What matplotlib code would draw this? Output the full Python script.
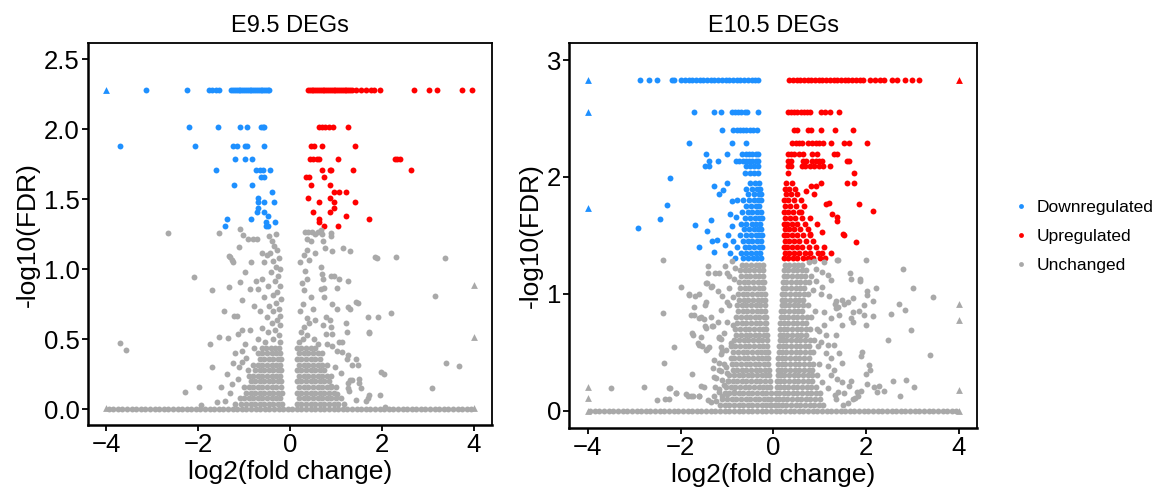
import numpy as np
import matplotlib.pyplot as plt
from matplotlib.lines import Line2D
from matplotlib.ticker import FormatStrFormatter

plt.rcParams['font.family'] = ['Liberation Sans', 'DejaVu Sans']

BLUE = '#1E90FF'
RED = '#FF0000'
GREY = '#A9A9A9'

# genes with FDR ~ 1 sit on the zero line across the whole fold-change range
baseline_x = [-3.95, -3.85, -3.75, -3.65, -3.55, -3.45, -3.35, -3.25, -3.15, -3.05,
              -2.95, -2.85, -2.75, -2.65, -2.55, -2.45, -2.35, -2.25, -2.15, -2.05,
              -1.95, -1.85, -1.75, -1.65, -1.55, -1.45, -1.35, -1.25, -1.15, -1.05,
              -0.95, -0.85, -0.75, -0.65, -0.55, -0.45, -0.35, -0.25, -0.15, -0.05,
              0.05, 0.15, 0.25, 0.35, 0.45, 0.55, 0.65, 0.75, 0.85, 0.95,
              1.05, 1.15, 1.25, 1.35, 1.45, 1.55, 1.65, 1.75, 1.85, 1.95,
              2.05, 2.15, 2.25, 2.35, 2.45, 2.55, 2.65, 2.75, 2.85, 2.95,
              3.05, 3.15, 3.25, 3.35, 3.45, 3.55, 3.65, 3.75, 3.85, 3.95]

# ---------------- E9.5 ----------------
e95_down_rows = [
    (2.28, [-3.13, -2.25, -1.77, -1.70, -1.62, -1.54, -1.28, -1.24, -1.20, -1.16, -1.12,
            -1.08, -1.04, -1.00, -0.96, -0.92, -0.88, -0.84, -0.80, -0.76, -0.72, -0.68,
            -0.64, -0.60, -0.56, -0.52, -0.48, -0.45]),
    (2.02, [-2.19, -1.57, -1.10, -0.94, -0.63, -0.59, -0.56]),
    (1.88, [-3.70, -2.06, -1.25, -1.16, -0.99, -0.94, -0.56]),
    (1.79, [-1.19, -0.98, -0.83]),
    (1.71, [-1.61, -0.74, -0.66, -0.59, -0.43]),
    (1.66, [-0.63, -0.56]),
    (1.60, [-1.21, -0.83]),
    (1.55, [-0.40]),
    (1.51, [-0.70]),
    (1.48, [-0.70, -0.56, -0.34]),
    (1.44, [-0.70]),
    (1.41, [-0.72, -0.56]),
    (1.38, [-0.48]),
    (1.36, [-1.38, -0.85]),
    (1.34, [-0.53, -0.32]),
    (1.31, [-1.41, -0.52, -0.48]),
]
e95_up_rows = [
    (2.28, [0.39, 0.43, 0.47, 0.51, 0.55, 0.59, 0.63, 0.67, 0.71, 0.75, 0.79, 0.83, 0.87,
            0.91, 0.95, 0.99, 1.03, 1.07, 1.11, 1.15, 1.19, 1.23, 1.27, 1.31, 1.35,
            1.43, 1.55, 1.66, 1.77, 1.84, 1.95, 2.71, 3.02, 3.20, 3.75, 3.97]),
    (2.02, [0.63, 0.70, 0.77, 0.84, 0.93, 1.26]),
    (1.88, [0.46, 0.53, 0.70, 1.41]),
    (1.79, [0.44, 0.51, 0.58, 0.64, 1.04, 2.28, 2.33, 2.39]),
    (1.71, [0.70, 0.86, 0.90, 1.38, 2.63]),
    (1.66, [0.34, 0.41, 0.75]),
    (1.60, [0.46, 0.86]),
    (1.55, [0.95, 1.06, 1.22]),
    (1.51, [0.39, 0.86]),
    (1.48, [0.63, 0.95, 1.41]),
    (1.44, [0.95]),
    (1.41, [0.50, 0.86]),
    (1.38, [1.22]),
    (1.36, [0.64, 1.71]),
    (1.34, [0.63]),
    (1.31, [0.75, 1.04]),
]
e95_down_tri = [(-4.0, 2.28)]
e95_up_tri = []

e95_grey_rows = [
    (0.44, [-0.62, -0.52, -0.42, -0.33, -0.25, 0.16, 0.25, 0.35, 0.45, 0.55]),
    (0.40, [-0.70, -0.60, -0.50, -0.40, -0.30, -0.22, 0.20, 0.30, 0.40, 0.50, 0.60, 0.70]),
    (0.36, [-0.66, -0.56, -0.46, -0.36, -0.27, -0.20, 0.16, 0.25, 0.35, 0.45, 0.55, 0.65]),
    (0.32, [-0.80, -0.70, -0.60, -0.50, -0.40, -0.30, -0.22,
            0.20, 0.30, 0.40, 0.50, 0.60, 0.70, 0.80]),
    (0.28, [-0.76, -0.66, -0.56, -0.46, -0.36, -0.27, -0.19,
            0.16, 0.25, 0.35, 0.45, 0.55, 0.65, 0.75]),
    (0.24, [-0.90, -0.80, -0.70, -0.60, -0.50, -0.40, -0.30, -0.21,
            0.20, 0.30, 0.40, 0.50, 0.60, 0.70, 0.80, 0.90]),
    (0.20, [-0.86, -0.76, -0.66, -0.56, -0.46, -0.36, -0.27, -0.19,
            0.16, 0.25, 0.35, 0.45, 0.55, 0.65, 0.75, 0.85]),
    (0.16, [-1.00, -0.90, -0.80, -0.70, -0.60, -0.50, -0.40, -0.30, -0.20,
            0.20, 0.30, 0.40, 0.50, 0.60, 0.70, 0.80, 0.90, 1.00]),
    (0.12, [-0.96, -0.86, -0.76, -0.66, -0.56, -0.46, -0.36, -0.26, -0.18,
            0.16, 0.25, 0.35, 0.45, 0.55, 0.65, 0.75, 0.85, 0.95]),
    (0.08, [-1.10, -1.00, -0.90, -0.80, -0.70, -0.60, -0.50, -0.40, -0.30, -0.21,
            0.20, 0.30, 0.40, 0.50, 0.60, 0.70, 0.80, 0.90, 1.00, 1.10]),
    (0.04, [-1.20, -1.06, -0.96, -0.86, -0.76, -0.66, -0.56, -0.46, -0.36, -0.26, -0.18,
            0.16, 0.25, 0.35, 0.45, 0.55, 0.65, 0.75, 0.85, 0.95, 1.05, 1.18]),
]
e95_grey_pts = [
    # left of zero
    (-0.30, 1.25), (-0.45, 1.24), (-0.40, 1.20), (-0.35, 1.17), (-0.28, 1.14), (-0.43, 1.12),
    (-0.50, 1.10), (-0.62, 1.12), (-0.25, 1.08), (-0.36, 1.06), (-0.56, 1.05), (-0.30, 1.02),
    (-0.21, 1.00), (-0.42, 0.98), (-0.26, 0.95), (-0.60, 0.93), (-0.33, 0.92), (-0.22, 0.88),
    (-0.48, 0.88), (-0.70, 0.86), (-0.28, 0.84), (-0.38, 0.82), (-0.20, 0.79), (-0.56, 0.80),
    (-0.30, 0.76), (-0.45, 0.74), (-0.24, 0.72), (-0.36, 0.70), (-0.21, 0.67), (-0.50, 0.66),
    (-0.28, 0.64), (-0.40, 0.62), (-0.22, 0.60), (-0.60, 0.58), (-0.33, 0.57), (-0.47, 0.55),
    (-0.25, 0.53), (-0.38, 0.50), (-0.55, 0.48), (-0.70, 0.50), (-0.22, 0.48),
    (-0.92, 1.22), (-0.81, 1.22), (-0.72, 1.22), (-1.03, 1.245), (-1.10, 1.29), (-1.55, 1.26),
    (-2.65, 1.26), (-1.32, 1.095), (-1.24, 1.054), (-1.12, 1.16), (-0.85, 1.05), (-0.97, 0.98),
    (-1.09, 0.91), (-0.88, 0.86), (-0.75, 0.92), (-1.04, 0.78), (-0.79, 0.74), (-0.66, 0.70),
    (-1.16, 0.67), (-1.21, 0.67), (-0.88, 0.57), (-1.04, 0.57), (-1.14, 0.535), (-0.98, 0.47),
    (-0.78, 0.44), (-1.35, 0.51), (-1.54, 0.52), (-1.75, 0.47), (-1.44, 0.70), (-1.32, 0.876),
    (-1.70, 0.85), (-2.10, 0.947), (-1.31, 1.09), (-1.27, 1.066), (-3.71, 0.476), (-3.58, 0.424),
    (-1.70, 0.30), (-1.99, 0.161), (-2.28, 0.121), (-1.94, 0.03), (-1.20, 0.40), (-1.05, 0.42),
    (-1.25, 0.33), (-1.12, 0.30), (-1.38, 0.25), (-1.50, 0.16), (-1.30, 0.12), (-1.42, 0.06),
    (-1.60, 0.05), (-1.05, 0.34), (-0.95, 0.37), (-1.14, 0.22), (-1.26, 0.18), (-0.92, 0.28),
    # right of zero
    (0.33, 1.27), (0.40, 1.27), (0.47, 1.27), (0.55, 1.25), (0.38, 1.22), (0.45, 1.20),
    (0.70, 1.25), (0.72, 1.20), (0.36, 1.14), (0.60, 1.27), (0.67, 1.28), (0.90, 1.26),
    (0.90, 1.24), (0.77, 1.15), (0.91, 1.13), (1.15, 1.15), (1.30, 1.13), (0.31, 1.10),
    (0.42, 1.07), (0.55, 1.12), (1.85, 1.09), (2.31, 1.09), (0.67, 1.02), (0.33, 0.99),
    (0.38, 0.93), (0.69, 0.97), (0.71, 0.93), (0.89, 0.95), (0.96, 0.95), (1.06, 0.93),
    (1.27, 0.92), (0.31, 0.85), (0.67, 0.86), (0.74, 0.87), (1.03, 0.87), (0.45, 0.80),
    (0.28, 0.75), (0.50, 0.72), (0.74, 0.80), (0.91, 0.75), (1.03, 0.72), (1.27, 0.73),
    (1.44, 0.77), (0.38, 0.65), (0.55, 0.64), (0.78, 0.66), (0.86, 0.64), (1.70, 0.66),
    (1.91, 0.66), (2.19, 0.69), (0.31, 0.59), (0.42, 0.62), (0.71, 0.60), (0.89, 0.59),
    (1.22, 0.62), (1.73, 0.55), (1.24, 0.55), (0.78, 0.54), (0.91, 0.54), (1.06, 0.48),
    (1.13, 0.48), (0.91, 0.45), (0.80, 0.47), (1.03, 0.42), (1.13, 0.41), (1.27, 0.39),
    (1.44, 0.36), (1.24, 0.36), (1.36, 0.32), (1.99, 0.27), (2.04, 0.25), (1.36, 0.21),
    (1.51, 0.19), (1.55, 0.15), (1.73, 0.10), (1.97, 0.10), (1.29, 0.13), (1.44, 0.07),
    (1.65, 0.06), (1.30, 0.21), (0.89, 0.17), (1.03, 0.11), (1.89, 1.078), (3.37, 1.078),
    (3.15, 0.81), (1.48, 0.757), (1.30, 0.72), (1.72, 0.547), (3.40, 0.329), (3.69, 0.309),
    (3.09, 0.15), (1.48, 0.32), (1.51, 0.22), (1.26, 0.186), (1.26, 0.15), (2.06, 0.02),
    (1.70, 0.08), (0.22, 1.05), (0.26, 0.90), (0.21, 0.70), (0.24, 0.55), (0.20, 0.48),
    (0.28, 0.50), (0.36, 0.53), (0.52, 0.50), (0.62, 0.47), (0.98, 0.30), (1.12, 0.26),
]
e95_grey_tri = [(-4.0, 0.01), (4.0, 0.01), (4.0, 0.52), (4.0, 0.89)]

# ---------------- E10.5 ----------------
e105_down_rows = [
    (2.83, [-2.87, -2.68, -2.51, -2.19, -2.14, -1.99, -1.91, -1.83, -1.75, -1.67, -1.59,
            -1.51, -1.43, -1.35, -1.27, -1.19, -1.11, -1.03, -0.95, -0.87, -0.79, -0.71,
            -0.63, -0.55, -0.47, -0.40, -0.34]),
    (2.56, [-1.72, -1.28, -1.12, -0.90, -0.83, -0.76, -0.69, -0.62, -0.56, -0.34]),
    (2.40, [-1.10, -0.86, -0.79, -0.72, -0.65, -0.58, -0.51, -0.44, -0.36]),
    (2.29, [-1.81, -0.90, -0.58]),
    (2.20, [-1.46, -1.00, -0.67, -0.60, -0.52, -0.45, -0.38, -0.34]),
    (2.14, [-1.38, -1.20, -0.80, -0.73, -0.66, -0.59, -0.52, -0.45, -0.38, -0.34]),
    (2.09, [-1.47, -1.38, -0.60, -0.51, -0.41, -0.34]),
    (2.03, [-0.62, -0.51, -0.42, -0.34]),
    (1.95, [-0.50, -0.40, -0.30]),
    (1.90, [-0.60, -0.45, -0.35, -0.28]),
    (1.85, [-0.55, -0.42, -0.32, -0.26]),
    (1.80, [-0.65, -0.52, -0.42, -0.33, -0.27]),
    (1.75, [-0.58, -0.48, -0.38, -0.30]),
    (1.70, [-0.68, -0.55, -0.45, -0.35, -0.27]),
    (1.65, [-0.62, -0.50, -0.40, -0.31, -0.25]),
    (1.60, [-0.70, -0.58, -0.47, -0.37, -0.28]),
    (1.55, [-0.64, -0.52, -0.42, -0.33, -0.26]),
    (1.50, [-0.72, -0.60, -0.48, -0.38, -0.30, -0.24]),
    (1.45, [-0.66, -0.55, -0.45, -0.35, -0.27]),
    (1.40, [-0.78, -0.62, -0.52, -0.42, -0.32, -0.25]),
    (1.35, [-0.70, -0.58, -0.48, -0.38, -0.29]),
    (1.31, [-0.82, -0.66, -0.55, -0.44, -0.35, -0.26]),
]
e105_down_pts = [
    (-2.23, 1.99), (-2.29, 1.76), (-2.44, 1.64), (-2.92, 1.56), (-0.99, 1.95), (-1.08, 1.885),
    (-1.17, 1.85), (-1.29, 1.92), (-0.90, 1.79), (-0.79, 1.80), (-0.93, 1.68), (-0.81, 1.66),
    (-1.35, 1.63), (-1.69, 1.59), (-1.43, 1.54), (-1.33, 1.45), (-1.21, 1.46), (-1.61, 1.40),
    (-1.29, 1.36), (-0.93, 1.35), (-0.98, 1.50), (-0.86, 1.45), (-1.05, 1.42), (-0.90, 1.58),
]
e105_up_rows = [
    (2.83, [0.34, 0.42, 0.50, 0.58, 0.66, 0.74, 0.82, 0.90, 0.98, 1.06, 1.14, 1.22, 1.30,
            1.38, 1.46, 1.54, 1.62, 1.70, 1.78, 1.86, 1.94, 2.09, 2.20, 2.31, 2.38, 2.56,
            2.67, 2.85, 2.99, 3.15]),
    (2.56, [0.31, 0.38, 0.45, 0.52, 0.59, 0.66, 0.73, 0.80, 1.03, 1.12, 1.22, 1.41]),
    (2.40, [0.44, 0.52, 0.74, 0.82, 1.03, 1.34, 1.72]),
    (2.29, [0.41, 0.48, 0.55, 0.62, 0.74, 0.84, 0.91, 0.98, 1.07, 1.25, 1.52, 1.63, 2.02]),
    (2.20, [0.31, 0.38, 0.45, 0.56, 0.63, 0.84, 0.94, 1.30, 1.37]),
    (2.14, [0.31, 0.38, 0.63, 0.70, 0.84, 0.91, 0.98, 1.05, 1.58, 1.63]),
    (2.09, [0.31, 0.38, 0.62, 0.69, 0.80, 0.88, 0.98, 1.07, 1.23]),
    (2.03, [0.31, 1.75]),
    (1.95, [0.28, 0.40]),
    (1.90, [0.25, 0.34, 0.46]),
    (1.85, [0.27, 0.38, 0.52]),
    (1.80, [0.24, 0.32, 0.44, 0.60]),
    (1.75, [0.26, 0.36, 0.48, 0.66]),
    (1.70, [0.24, 0.31, 0.42, 0.55]),
    (1.65, [0.25, 0.35, 0.46, 0.62, 0.78]),
    (1.60, [0.23, 0.30, 0.40, 0.52, 0.68]),
    (1.55, [0.25, 0.34, 0.45, 0.58, 0.75]),
    (1.50, [0.24, 0.30, 0.40, 0.50, 0.64, 0.80]),
    (1.45, [0.25, 0.34, 0.45, 0.56, 0.70, 0.86]),
    (1.40, [0.24, 0.30, 0.40, 0.50, 0.62, 0.76, 0.92]),
    (1.35, [0.25, 0.34, 0.45, 0.56, 0.68, 0.80, 0.96, 1.05]),
    (1.31, [0.24, 0.32, 0.42, 0.52, 0.64, 0.74, 0.86, 1.00, 1.12]),
]
e105_up_pts = [
    (1.75, 1.95), (1.59, 1.95), (1.84, 1.77), (2.14, 1.71), (0.91, 1.92), (0.82, 1.92),
    (1.02, 1.95), (0.87, 1.85), (1.20, 1.78), (1.13, 1.77), (1.27, 1.68), (1.38, 1.66),
    (1.38, 1.62), (1.05, 1.53), (1.52, 1.50), (1.79, 1.44), (0.79, 1.51), (0.70, 1.88),
    (0.60, 1.70), (0.95, 1.60), (1.10, 1.40), (1.25, 1.35), (1.51, 1.51),
]
e105_down_tri = [(-4.0, 2.83), (-4.0, 2.56), (-4.0, 1.73)]
e105_up_tri = [(4.0, 2.83)]

e105_grey_rows = [
    (1.25, [-0.68, -0.58, -0.48, -0.38, -0.30, -0.23, 0.25, 0.34, 0.44, 0.54, 0.62]),
    (1.20, [-0.72, -0.62, -0.52, -0.42, -0.32, -0.23, 0.23, 0.32, 0.42, 0.52, 0.62, 0.70]),
    (1.15, [-0.70, -0.60, -0.50, -0.40, -0.30, -0.22, 0.22, 0.30, 0.40, 0.50, 0.60, 0.68]),
    (1.10, [-0.74, -0.64, -0.54, -0.44, -0.34, -0.25, -0.21,
            0.21, 0.28, 0.38, 0.48, 0.58, 0.68, 0.76]),
    (1.05, [-0.72, -0.62, -0.52, -0.42, -0.32, -0.22, 0.20, 0.28, 0.38, 0.48, 0.58, 0.66]),
    (1.00, [-0.76, -0.66, -0.56, -0.46, -0.36, -0.26, -0.19,
            0.19, 0.26, 0.36, 0.46, 0.56, 0.66, 0.74]),
    (0.95, [-0.74, -0.64, -0.54, -0.44, -0.34, -0.24, -0.18,
            0.18, 0.26, 0.36, 0.46, 0.56, 0.64]),
    (0.90, [-0.78, -0.68, -0.58, -0.48, -0.38, -0.28, -0.18,
            0.18, 0.25, 0.34, 0.44, 0.54, 0.64, 0.74]),
    (0.85, [-0.76, -0.66, -0.56, -0.46, -0.36, -0.26, -0.17,
            0.17, 0.24, 0.34, 0.44, 0.54, 0.62]),
    (0.80, [-0.80, -0.70, -0.60, -0.50, -0.40, -0.30, -0.21, -0.16,
            0.16, 0.24, 0.32, 0.42, 0.52, 0.62, 0.72, 0.82]),
    (0.75, [-0.78, -0.68, -0.58, -0.48, -0.38, -0.28, -0.19, -0.15,
            0.15, 0.23, 0.32, 0.42, 0.52, 0.62, 0.70]),
    (0.70, [-0.82, -0.72, -0.62, -0.52, -0.42, -0.32, -0.22, -0.15,
            0.15, 0.22, 0.30, 0.40, 0.50, 0.60, 0.70, 0.80]),
    (0.65, [-0.80, -0.70, -0.60, -0.50, -0.40, -0.30, -0.21, -0.14,
            0.14, 0.21, 0.30, 0.40, 0.50, 0.60, 0.70]),
    (0.60, [-0.84, -0.74, -0.64, -0.54, -0.44, -0.34, -0.24, -0.14,
            0.14, 0.20, 0.28, 0.38, 0.48, 0.58, 0.68, 0.78, 0.88]),
    (0.55, [-0.82, -0.72, -0.62, -0.52, -0.42, -0.32, -0.22, -0.13,
            0.13, 0.20, 0.28, 0.38, 0.48, 0.58, 0.68, 0.76]),
    (0.50, [-0.86, -0.76, -0.66, -0.56, -0.46, -0.36, -0.26, -0.17, -0.12,
            0.12, 0.19, 0.28, 0.38, 0.48, 0.58, 0.68, 0.78, 0.86]),
    (0.45, [-0.84, -0.74, -0.64, -0.54, -0.44, -0.34, -0.24, -0.15, -0.11,
            0.11, 0.18, 0.26, 0.36, 0.46, 0.56, 0.66, 0.76]),
    (0.40, [-0.90, -0.80, -0.70, -0.60, -0.50, -0.40, -0.30, -0.20, -0.11,
            0.11, 0.18, 0.26, 0.36, 0.46, 0.56, 0.66, 0.76, 0.86]),
    (0.35, [-0.88, -0.78, -0.68, -0.58, -0.48, -0.38, -0.28, -0.18, -0.10,
            0.10, 0.17, 0.26, 0.36, 0.46, 0.56, 0.66, 0.76, 0.84]),
    (0.30, [-0.95, -0.85, -0.75, -0.65, -0.55, -0.45, -0.35, -0.25, -0.16, -0.09,
            0.09, 0.16, 0.24, 0.34, 0.44, 0.54, 0.64, 0.74, 0.84, 0.94]),
    (0.25, [-0.98, -0.88, -0.78, -0.68, -0.58, -0.48, -0.38, -0.28, -0.18, -0.08,
            0.08, 0.15, 0.24, 0.34, 0.44, 0.54, 0.64, 0.74, 0.84]),
    (0.20, [-1.02, -0.92, -0.82, -0.72, -0.62, -0.52, -0.42, -0.32, -0.22, -0.13, -0.07,
            0.07, 0.14, 0.22, 0.32, 0.42, 0.52, 0.62, 0.72, 0.82, 0.92]),
    (0.15, [-1.05, -0.95, -0.85, -0.75, -0.65, -0.55, -0.45, -0.35, -0.25, -0.15, -0.06,
            0.06, 0.13, 0.22, 0.32, 0.42, 0.52, 0.62, 0.72, 0.82, 0.92, 1.00]),
    (0.10, [-1.10, -1.00, -0.90, -0.80, -0.70, -0.60, -0.50, -0.40, -0.30, -0.20, -0.11, -0.05,
            0.05, 0.12, 0.20, 0.30, 0.40, 0.50, 0.60, 0.70, 0.80, 0.90, 1.00]),
    (0.05, [-1.15, -1.05, -0.95, -0.85, -0.75, -0.65, -0.55, -0.45, -0.35, -0.25, -0.15,
            -0.08, -0.04, 0.04, 0.10, 0.18, 0.28, 0.38, 0.48, 0.58, 0.68, 0.78, 0.88,
            0.98, 1.08]),
]
e105_grey_pts = [
    # left of zero
    (-2.39, 1.285), (-1.99, 1.054), (-1.83, 0.991), (-1.61, 1.00), (-2.37, 0.835),
    (-1.42, 1.24), (-1.17, 1.18), (-0.99, 1.18), (-1.05, 1.24), (-1.43, 1.09), (-1.33, 1.07),
    (-1.72, 0.89), (-1.48, 0.90), (-1.78, 0.82), (-1.55, 0.80), (-1.32, 0.72), (-1.48, 0.72),
    (-1.75, 0.66), (-1.17, 0.63), (-1.13, 0.61), (-2.14, 0.54), (-2.35, 0.406), (-1.75, 0.31),
    (-1.60, 0.56), (-1.43, 0.53), (-1.57, 0.21), (-1.13, 0.48), (-1.10, 0.51), (-2.78, 0.20),
    (-3.50, 0.19), (-2.23, 0.19), (-2.11, 0.15), (-2.26, 0.096), (-2.51, 0.09), (-1.85, 0.12),
    (-1.78, 0.12), (-1.61, 0.12), (-1.42, 0.09), (-1.28, 0.12), (-1.17, 0.16), (-1.24, 0.28),
    (-1.13, 0.34), (-1.02, 0.37), (-1.40, 1.18), (-1.25, 1.18), (-0.96, 1.15), (-0.85, 1.13),
    (-1.45, 1.09), (-1.35, 1.06), (-1.20, 1.02), (-1.82, 1.00), (-1.68, 0.98), (-1.10, 0.98),
    (-0.99, 0.93), (-1.45, 0.93), (-0.96, 0.90), (-1.13, 0.86), (-1.71, 0.82), (-1.60, 0.79),
    (-1.50, 0.78), (-1.35, 0.80), (-1.20, 0.76), (-0.99, 0.76), (-0.88, 0.73), (-1.45, 0.71),
    (-1.31, 0.72), (-1.74, 0.65), (-1.56, 0.63), (-1.17, 0.62), (-1.06, 0.66), (-0.92, 0.58),
    (-1.63, 0.58), (-1.53, 0.55), (-1.38, 0.54), (-1.13, 0.54), (-1.03, 0.52), (-0.92, 0.55),
    (-1.45, 0.52), (-1.28, 0.43), (-1.17, 0.41), (-1.31, 0.36), (-1.17, 0.35), (-1.06, 0.40),
    (-0.99, 0.32), (-1.50, 0.20), (-1.28, 0.29), (-1.10, 0.26), (-1.06, 0.22), (-1.17, 0.18),
    (-2.24, 0.19), (-2.10, 0.15), (-1.88, 0.14), (-1.74, 0.12), (-1.60, 0.12), (-1.35, 0.07),
    (-1.24, 0.08), (-1.10, 0.12), (-0.99, 0.14), (-0.85, 0.16), (-2.34, 0.10), (-0.90, 1.28),
    (-0.82, 1.22), (-0.95, 1.05), (-0.88, 0.97), (-0.92, 0.45), (-0.97, 0.25), (-1.25, 0.20),
    # right of zero
    (1.38, 1.29), (2.00, 1.285), (2.79, 1.21), (1.65, 1.18), (1.86, 1.11), (2.01, 1.02),
    (2.01, 0.99), (3.02, 1.045), (3.45, 0.97), (2.70, 0.914), (2.83, 0.857), (2.54, 0.829),
    (1.32, 0.91), (1.39, 0.89), (1.62, 0.93), (1.67, 0.79), (1.85, 0.85), (1.95, 0.90),
    (2.47, 0.60), (2.97, 0.686), (3.37, 0.477), (1.88, 0.463), (2.08, 0.349), (2.00, 0.31),
    (2.01, 0.23), (2.24, 0.16), (2.39, 0.17), (2.58, 0.25), (2.86, 0.26), (3.04, 0.20),
    (2.73, 0.125), (1.83, 0.12), (1.76, 0.11), (1.61, 0.06), (1.33, 0.13), (1.40, 0.16),
    (1.51, 0.05), (0.77, 1.27), (0.88, 1.28), (1.10, 1.27), (1.39, 1.29), (0.92, 1.21),
    (1.06, 1.19), (1.17, 1.16), (1.67, 1.13), (1.87, 1.13), (0.92, 1.11), (1.06, 1.06),
    (1.24, 1.12), (0.85, 1.03), (1.03, 1.00), (1.20, 0.98), (1.49, 0.95), (1.71, 0.96),
    (1.35, 0.94), (2.21, 1.05), (1.35, 0.88), (1.52, 0.91), (1.71, 0.84), (1.96, 0.82),
    (2.14, 0.94), (2.14, 0.81), (1.10, 0.84), (1.24, 0.79), (1.42, 0.82), (1.10, 0.73),
    (0.99, 0.68), (1.13, 0.65), (1.49, 0.73), (1.71, 0.76), (1.99, 0.73), (1.03, 0.59),
    (1.17, 0.56), (1.35, 0.65), (1.31, 0.56), (1.13, 0.49), (1.24, 0.45), (1.42, 0.49),
    (1.92, 0.50), (0.99, 0.40), (1.17, 0.38), (1.31, 0.35), (1.49, 0.41), (2.06, 0.39),
    (1.24, 0.30), (1.38, 0.27), (1.49, 0.24), (1.63, 0.21), (1.67, 0.25), (1.06, 0.24),
    (1.17, 0.19), (1.35, 0.10), (1.52, 0.15), (1.71, 0.10), (1.81, 0.16), (1.88, 0.17),
    (2.17, 0.20), (2.28, 0.21), (0.96, 0.55), (0.94, 0.70), (0.90, 0.85), (0.82, 1.15),
]
e105_grey_tri = [(-4.0, 0.197), (-4.0, 0.11), (-4.0, 0.0), (4.0, 0.914), (4.0, 0.771),
                 (4.0, 0.177), (4.0, 0.0)]


def unrow(rows):
    xs, ys = [], []
    for y, row in rows:
        xs += row
        ys += [y] * len(row)
    return xs, ys


def unpair(pts):
    return [p[0] for p in pts], [p[1] for p in pts]


def volcano(ax, grey_rows, grey_pts, grey_tri, down_rows, down_pts, down_tri,
            up_rows, up_pts, up_tri):
    dot = dict(s=18, linewidths=0)
    tri = dict(s=24, marker='^', linewidths=0)
    ax.scatter(baseline_x, [0.0] * len(baseline_x), color=GREY, **dot)
    for part, col in [(grey_rows, GREY), (down_rows, BLUE), (up_rows, RED)]:
        x, y = unrow(part)
        ax.scatter(x, y, color=col, **dot)
    for part, col in [(grey_pts, GREY), (down_pts, BLUE), (up_pts, RED)]:
        if part:
            x, y = unpair(part)
            ax.scatter(x, y, color=col, **dot)
    for part, col in [(grey_tri, GREY), (down_tri, BLUE), (up_tri, RED)]:
        if part:
            x, y = unpair(part)
            ax.scatter(x, y, color=col, **tri)

    ax.set_xlim(-4.4, 4.4)
    ax.set_xticks([-4, -2, 0, 2, 4])
    ax.set_xlabel('log2(fold change)', fontsize=19, labelpad=2)
    ax.set_ylabel('-log10(FDR)', fontsize=19, labelpad=3)
    ax.tick_params(labelsize=18.5, length=4, width=1.3, pad=2, colors='black')
    for side in ['left', 'bottom']:
        ax.spines[side].set_linewidth(1.8)
    for side in ['top', 'right']:
        ax.spines[side].set_linewidth(1.3)


fig = plt.figure(figsize=(11.61, 4.96), dpi=100)
ax1 = fig.add_axes([0.0758, 0.143, 0.348, 0.770])
ax2 = fig.add_axes([0.4904, 0.138, 0.3514, 0.776])

volcano(ax1, e95_grey_rows, e95_grey_pts, e95_grey_tri,
        e95_down_rows, [], e95_down_tri, e95_up_rows, [], e95_up_tri)
ax1.set_ylim(-0.112, 2.616)
ax1.set_yticks([0, 0.5, 1.0, 1.5, 2.0, 2.5])
ax1.yaxis.set_major_formatter(FormatStrFormatter('%.1f'))
ax1.set_title('E9.5 DEGs', fontsize=17, pad=8)

volcano(ax2, e105_grey_rows, e105_grey_pts, e105_grey_tri,
        e105_down_rows, e105_down_pts, e105_down_tri, e105_up_rows, e105_up_pts, e105_up_tri)
ax2.set_ylim(-0.146, 3.15)
ax2.set_yticks([0, 1, 2, 3])
ax2.set_title('E10.5 DEGs', fontsize=17, pad=8)

legend_labels = ['Downregulated', 'Upregulated', 'Unchanged']
legend_colors = [BLUE, RED, GREY]
handles = [Line2D([], [], ls='none', marker='o', markersize=3.5, markeredgewidth=0,
                  color=c) for c in legend_colors]
fig.legend(handles, legend_labels, loc='center left', bbox_to_anchor=(0.8596, 0.524),
           frameon=False, fontsize=12.5, handletextpad=0.5, labelspacing=0.8,
           handlelength=0.8)

fig.savefig('out.png', dpi=100)
